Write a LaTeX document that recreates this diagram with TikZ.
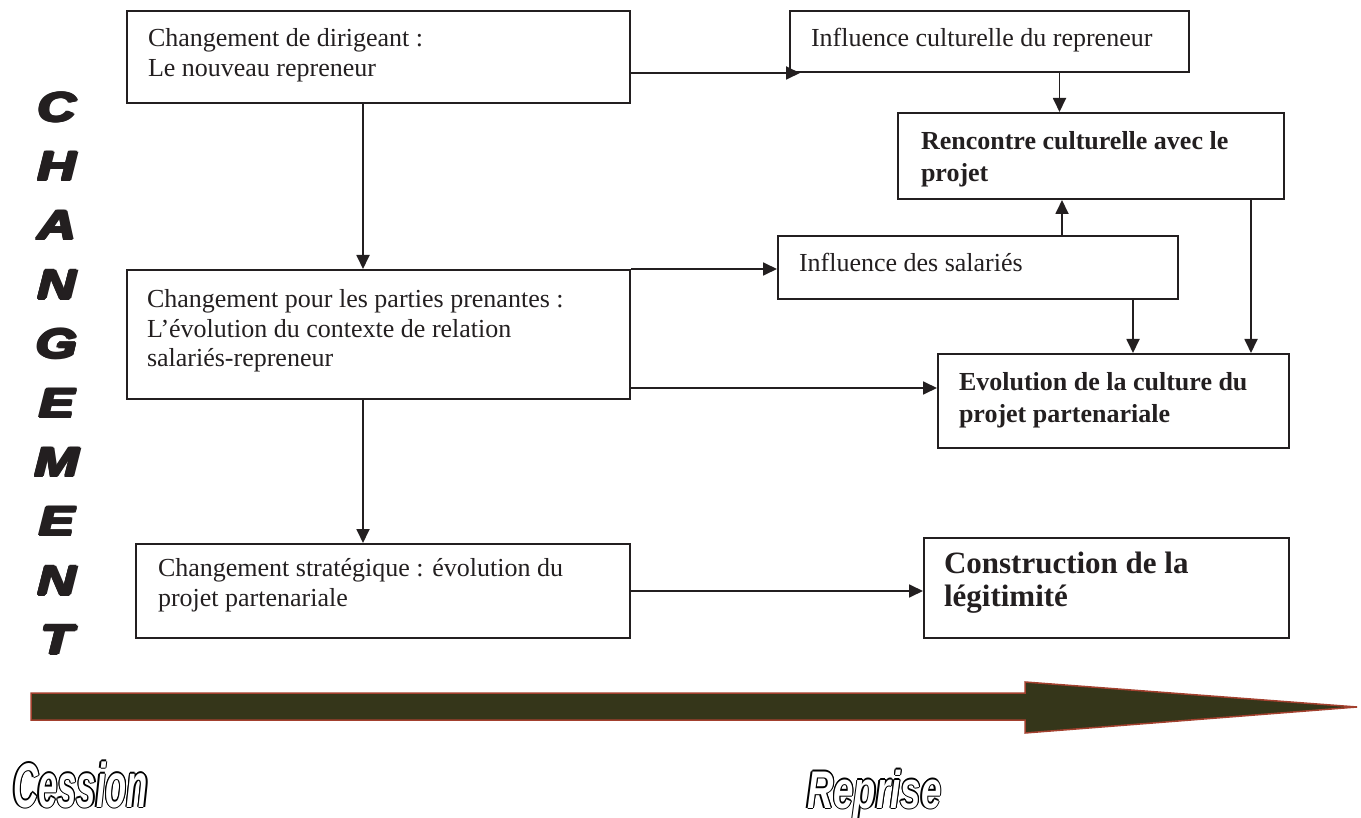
\documentclass[tikz,border=0pt]{standalone}
\usepackage{fontspec}
\setmainfont{Liberation Serif}
\newfontfamily\arialf{Liberation Sans}
\usepackage{graphicx}
\usetikzlibrary{arrows.meta}
\definecolor{olivedk}{HTML}{35361A}
\definecolor{rustbr}{HTML}{A3402E}
\definecolor{inkblk}{HTML}{231F20}
\newcommand\olcp[3]{\rlap{\kern#1\raisebox{#2}{#3}}}
\newcommand\outlined[1]{{\color{black}\olcp{1.3pt}{0pt}{#1}\olcp{-1.3pt}{0pt}{#1}\olcp{0pt}{1.3pt}{#1}\olcp{0pt}{-1.3pt}{#1}\olcp{0.9pt}{0.9pt}{#1}\olcp{-0.9pt}{0.9pt}{#1}\olcp{0.9pt}{-0.9pt}{#1}\olcp{-0.9pt}{-0.9pt}{#1}}\textcolor{white}{#1}}
\newcommand\hv[1]{\scalebox{1.3}[1]{\olcp{1.2pt}{0pt}{#1}\olcp{-1.2pt}{0pt}{#1}\olcp{0pt}{1.2pt}{#1}\olcp{0pt}{-1.2pt}{#1}\olcp{0.85pt}{0.85pt}{#1}\olcp{-0.85pt}{-0.85pt}{#1}\olcp{0.85pt}{-0.85pt}{#1}\olcp{-0.85pt}{0.85pt}{#1}#1}}
% box text: width, height, left pad, top pad, text
\newcommand\bxt[5]{\parbox[c][#2][t]{#1}{\raggedright\leftskip=#3\relax\vspace*{#4}\strut #5}}
\tikzset{
  bx/.style={draw=inkblk, line width=2pt, rectangle, inner sep=0pt, anchor=north west, text=inkblk},
  nf/.style={font=\fontsize{26}{29.5}\selectfont},
  bf/.style={font=\bfseries\fontsize{26}{32}\selectfont},
  arr/.style={draw=inkblk, line width=1.8pt, -{Triangle[length=14pt,width=13pt]}},
}
\begin{document}
\begin{tikzpicture}[x=1pt,y=-1pt]
\useasboundingbox (0,0) rectangle (1361,818);
% boxes
\node[bx,nf] (b1) at (126,10) {\bxt{503pt}{92pt}{21pt}{15pt}{Changement de dirigeant :\\Le nouveau repreneur}};
\node[bx,nf] (b2) at (126,269) {\bxt{503pt}{129pt}{20pt}{17pt}{Changement pour les parties prenantes :\\L'évolution du contexte de relation\\salariés-repreneur}};
\node[bx,nf] (b3) at (135,543) {\bxt{494pt}{94pt}{22pt}{12pt}{Changement stratégique : évolution du\\projet partenariale}};
\node[bx,nf] (ic) at (789,10) {\bxt{399pt}{61pt}{21pt}{15pt}{Influence culturelle du repreneur}};
\node[bx,bf] (ren) at (897,112) {\bxt{386pt}{86pt}{23pt}{14pt}{Rencontre culturelle avec le\\projet}};
\node[bx,nf] (sal) at (777,235) {\bxt{400pt}{63pt}{21pt}{15pt}{Influence des salariés}};
\node[bx,bf] (evo) at (937,353) {\bxt{351pt}{94pt}{21pt}{14pt}{Evolution de la culture du\\projet partenariale}};
\node[bx,font=\bfseries\fontsize{31}{33}\selectfont] (con) at (923,537) {\bxt{365pt}{100pt}{20pt}{12pt}{Construction de la\\légitimité}};
% connectors
\draw[arr] (b1.south -| 363,0) -- (b2.north -| 363,0);
\draw[arr] (b1.east |- ic.south west) -- ([xshift=11pt]ic.south west);
\draw[arr] ([xshift=70pt]ic.south) -- ([xshift=70pt]ic.south |- ren.north);
\draw[arr] ([xshift=84pt]sal.north) -- ([xshift=84pt]sal.north |- ren.south);
\draw[arr] (b2.north east) -- (b2.north east -| sal.west);
\draw[arr] ([yshift=-53.5pt]b2.east) -- ([yshift=-53.5pt]b2.east -| evo.west);
\draw[arr] ([xshift=155pt]sal.south) -- ([xshift=155pt]sal.south |- evo.north);
\draw[arr] ([xshift=160pt]ren.south) -- ([xshift=160pt]ren.south |- evo.north);
\draw[arr] (b2.south -| 363,0) -- (b3.north -| 363,0);
\draw[arr] (b3.east) -- (b3.east -| con.west);
% vertical word
\node[align=center, inner sep=0pt, text=inkblk, font=\arialf\bfseries\itshape\fontsize{41}{59.2}\selectfont] (chg) at (57,373.4)
  {\hv{C}\\\hv{H}\\\hv{A}\\\hv{N}\\\hv{G}\\\hv{E}\\\hv{M}\\\hv{E}\\\hv{N}\\\hv{T}};
% big timeline arrow
\draw[fill=olivedk, draw=rustbr, line width=1.5pt, line join=miter]
  (31,693) -- (1025,693) -- (1025,682) -- (1357,707) -- (1025,733) -- (1025,720) -- (31,720) -- cycle;
% labels
\node[anchor=base west, inner sep=0pt, font=\arialf\bfseries\itshape\fontsize{63}{63}\selectfont] (ces) at (13,807) {\outlined{\scalebox{0.55}[1]{Cession}}};
\node[anchor=base west, inner sep=0pt, font=\arialf\bfseries\itshape\fontsize{53}{53}\selectfont] (rep) at (807,808) {\outlined{\scalebox{0.69}[1]{Reprise}}};
\end{tikzpicture}
\end{document}
